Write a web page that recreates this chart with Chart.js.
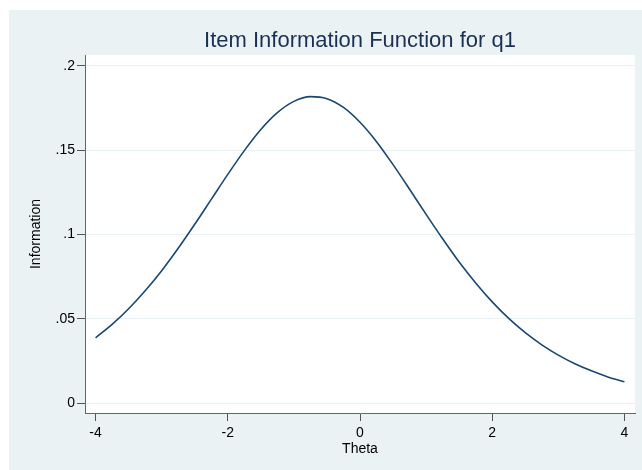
<!DOCTYPE html>
<html>
<head>
<meta charset="utf-8">
<script src="https://cdn.jsdelivr.net/npm/chart.js@4/dist/chart.umd.min.js"></script>
<style>
  html, body { margin: 0; padding: 0; background: #ffffff; }
  #infoChart { display: block; }
</style>
</head>
<body>
<canvas id="infoChart" width="642" height="470"></canvas>
<script>
// item information curve for q1, read at steps of 0.25 on theta
const theta = [
  -4, -3.75, -3.5, -3.25, -3, -2.75, -2.5, -2.25, -2, -1.75, -1.5, -1.25, -1,
  -0.75, -0.5, -0.25, 0, 0.25, 0.5, 0.75, 1, 1.25, 1.5, 1.75, 2, 2.25, 2.5,
  2.75, 3, 3.25, 3.5, 3.75, 4
];
const information = [
  0.0388, 0.0467, 0.0560, 0.0667, 0.0786, 0.0919, 0.1061, 0.1209, 0.1357,
  0.1498, 0.1623, 0.1723, 0.1790, 0.1818, 0.1806, 0.1754, 0.1666, 0.1551,
  0.1415, 0.1269, 0.1120, 0.0975, 0.0837, 0.0713, 0.0601, 0.0503, 0.0418,
  0.0346, 0.0285, 0.0234, 0.0192, 0.0156, 0.0127
];
const xTicks = [-4, -2, 0, 2, 4];
const yTicks = [0, 0.05, 0.1, 0.15, 0.2];
const yTickLabels = ["0", ".05", ".1", ".15", ".2"];

const chartTitle = "Item Information Function for q1";
const FONT = "'Liberation Sans', Arial, sans-serif";
const BG = "#eaf2f3";

// stata-style backdrop: tinted graph region, white plot region
const backdrop = {
  id: "backdrop",
  beforeDraw(chart) {
    const { ctx, chartArea: a } = chart;
    ctx.save();
    ctx.fillStyle = BG;
    ctx.fillRect(9, 10, chart.width - 9, chart.height - 10);
    ctx.fillStyle = "#ffffff";
    ctx.fillRect(a.left, a.top, a.right - a.left, a.bottom - a.top);
    ctx.restore();
  },
  afterDraw(chart) {
    const { ctx, chartArea: a } = chart;
    ctx.save();
    ctx.fillStyle = "#1c3054";
    ctx.font = "22px " + FONT;
    ctx.textAlign = "center";
    ctx.textBaseline = "alphabetic";
    ctx.fillText(chartTitle, (a.left + a.right) / 2, 47);
    ctx.restore();
  }
};

new Chart(document.getElementById("infoChart"), {
  type: "line",
  data: {
    datasets: [{
      data: theta.map((t, i) => ({ x: t, y: information[i] })),
      borderColor: "#1a476f",
      borderWidth: 1.6,
      pointRadius: 0,
      fill: false,
      cubicInterpolationMode: "monotone"
    }]
  },
  options: {
    responsive: false,
    animation: false,
    layout: { padding: { left: 0, right: 7, top: 55, bottom: 0 } },
    plugins: {
      legend: { display: false },
      title: { display: false },
      tooltip: { enabled: false }
    },
    scales: {
      x: {
        type: "linear",
        min: -4.16,
        max: 4.16,
        afterBuildTicks: (s) => { s.ticks = xTicks.map(v => ({ value: v })); },
        afterFit: (s) => { s.height = 57; },
        ticks: {
          color: "#000000",
          font: { family: FONT, size: 14 },
          padding: 4,
          maxRotation: 0,
          callback: (v) => String(v)
        },
        grid: {
          drawOnChartArea: false,
          drawTicks: true,
          tickLength: 8,
          tickColor: "#555555"
        },
        border: { display: true, color: "#666666", width: 1 },
        title: {
          display: true,
          text: "Theta",
          color: "#000000",
          font: { family: FONT, size: 14 },
          padding: { top: 0, bottom: 12.5 }
        }
      },
      y: {
        min: -0.0058,
        max: 0.2065,
        afterBuildTicks: (s) => { s.ticks = yTicks.map(v => ({ value: v })); },
        afterFit: (s) => { s.width = 85; },
        ticks: {
          color: "#000000",
          font: { family: FONT, size: 14 },
          padding: 2,
          callback: (v) => {
            const i = yTicks.findIndex(t => Math.abs(t - v) < 1e-9);
            return i >= 0 ? yTickLabels[i] : "";
          }
        },
        grid: {
          color: "#e9f0f3",
          lineWidth: 1,
          drawTicks: true,
          tickLength: 8,
          tickColor: "#555555"
        },
        border: { display: true, color: "#666666", width: 1 },
        title: {
          display: true,
          text: "Information",
          color: "#000000",
          font: { family: FONT, size: 14 },
          padding: { top: 28, bottom: 0 }
        }
      }
    }
  },
  plugins: [backdrop]
});
</script>
</body>
</html>
